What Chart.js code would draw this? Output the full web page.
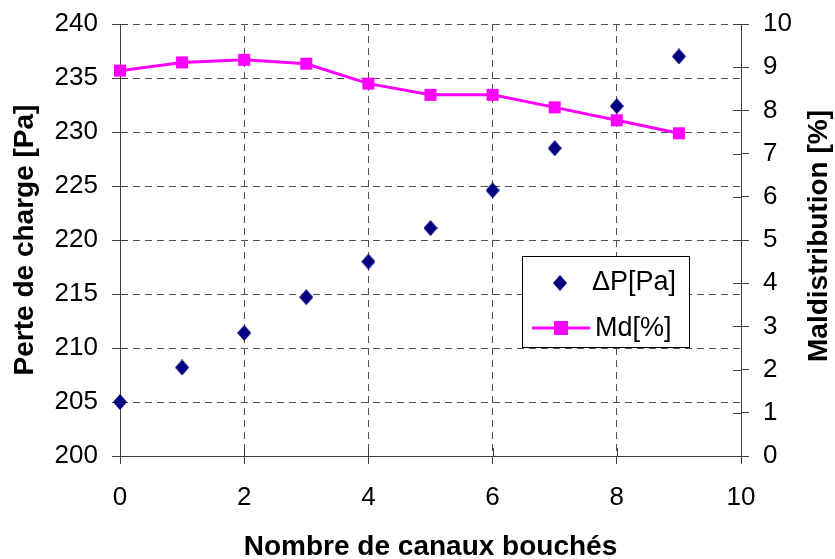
<!DOCTYPE html>
<html>
<head>
<meta charset="utf-8">
<script src="https://cdn.jsdelivr.net/npm/chart.js@4"></script>
<style>
  html, body { margin: 0; padding: 0; background: #fff; }
</style>
</head>
<body>
<canvas id="myChart" width="835" height="559"></canvas>
<script>
var xValues = [0, 1, 2, 3, 4, 5, 6, 7, 8, 9];
var dpValues = [205.0, 208.2, 211.4, 214.7, 218.0, 221.1, 224.6, 228.5, 232.4, 237.0];
var mdValues = [8.92, 9.11, 9.17, 9.08, 8.62, 8.36, 8.36, 8.07, 7.77, 7.47];
var seriesNames = ["\u0394P[Pa]", "Md[%]"];
var xTitle = "Nombre de canaux bouchés";
var yLeftTitle = "Perte de charge [Pa]";
var yRightTitle = "Maldistribution [%]";

var FONT = "'Liberation Sans', Arial, sans-serif";
var axisColor = "#404040";
var gridColor = "#505050";

// diamond marker, a bit taller than wide
var diamond = document.createElement("canvas");
diamond.width = 14;
diamond.height = 16;
(function () {
  var c = diamond.getContext("2d");
  c.fillStyle = "#000080";
  c.beginPath();
  c.moveTo(7, 0);
  c.lineTo(14, 8);
  c.lineTo(7, 16);
  c.lineTo(0, 8);
  c.closePath();
  c.fill();
})();

// tick marks that cross the axis lines
var crossTicks = {
  id: "crossTicks",
  beforeDatasetsDraw: function (chart) {
    var ctx = chart.ctx, a = chart.chartArea, s = chart.scales;
    ctx.save();
    ctx.strokeStyle = axisColor;
    ctx.lineWidth = 1;
    ctx.beginPath();
    s.x.ticks.forEach(function (t) {
      var px = Math.round(s.x.getPixelForValue(t.value)) + 0.5;
      ctx.moveTo(px, a.bottom);
      ctx.lineTo(px, a.bottom - 8);
    });
    s.y.ticks.forEach(function (t) {
      var py = Math.round(s.y.getPixelForValue(t.value)) + 0.5;
      ctx.moveTo(a.left, py);
      ctx.lineTo(a.left + 8, py);
    });
    s.y1.ticks.forEach(function (t) {
      var py = Math.round(s.y1.getPixelForValue(t.value)) + 0.5;
      ctx.moveTo(a.right, py);
      ctx.lineTo(a.right - 8, py);
    });
    ctx.stroke();
    ctx.restore();
  }
};

// right title (bottom to top, like Excel) and the boxed legend
var extras = {
  id: "extras",
  afterDraw: function (chart) {
    var ctx = chart.ctx, a = chart.chartArea;
    ctx.save();
    ctx.fillStyle = "#000";
    ctx.font = "bold 28px " + FONT;
    ctx.textAlign = "center";
    ctx.textBaseline = "middle";
    ctx.translate(a.right + 78, (a.top + a.bottom) / 2 - 4);
    ctx.rotate(-Math.PI / 2);
    ctx.fillText(yRightTitle, 0, 0);
    ctx.restore();

    var bx = 522, by = 256, bw = 167, bh = 91;
    ctx.save();
    ctx.fillStyle = "#fff";
    ctx.fillRect(bx, by, bw, bh);
    ctx.strokeStyle = "#000";
    ctx.lineWidth = 1;
    ctx.strokeRect(bx + 0.5, by + 0.5, bw, bh);
    ctx.drawImage(diamond, 553, 275, 14, 16);
    ctx.strokeStyle = "#FF00FF";
    ctx.lineWidth = 3;
    ctx.beginPath();
    ctx.moveTo(532, 328);
    ctx.lineTo(590, 328);
    ctx.stroke();
    ctx.fillStyle = "#FF00FF";
    ctx.fillRect(554, 321, 14, 14);
    ctx.fillStyle = "#000";
    ctx.font = "27px " + FONT;
    ctx.textAlign = "left";
    ctx.textBaseline = "middle";
    ctx.fillText(seriesNames[0], 592, 283);
    ctx.fillText(seriesNames[1], 595, 329);
    ctx.restore();
  }
};

function fitY(w) {
  return function (s) {
    s.width = w;
    s.paddingTop = 0;
    s.paddingBottom = 0;
  };
}

new Chart("myChart", {
  type: "scatter",
  data: {
    datasets: [{
      label: seriesNames[0],
      data: xValues.map(function (x, i) { return { x: x, y: dpValues[i] }; }),
      yAxisID: "y",
      pointStyle: diamond,
      pointRadius: 8,
      showLine: false,
      clip: false,
      order: 1
    }, {
      label: seriesNames[1],
      data: xValues.map(function (x, i) { return { x: x, y: mdValues[i] }; }),
      yAxisID: "y1",
      showLine: true,
      borderColor: "#FF00FF",
      backgroundColor: "#FF00FF",
      borderWidth: 3,
      pointStyle: "rect",
      pointRadius: 8.5,
      pointBorderWidth: 0,
      clip: false,
      order: 2
    }]
  },
  options: {
    responsive: false,
    animation: false,
    layout: { padding: { top: 24 } },
    plugins: {
      legend: { display: false },
      tooltip: { enabled: false }
    },
    scales: {
      x: {
        type: "linear",
        min: 0,
        max: 10,
        ticks: { stepSize: 2, color: "#000", font: { family: FONT, size: 26 }, padding: 18 },
        grid: { color: gridColor, tickColor: axisColor, tickLength: 8 },
        border: { color: axisColor, width: 1, dash: [7, 5] },
        title: {
          display: true,
          text: xTitle,
          color: "#000",
          font: { family: FONT, size: 28, weight: "bold", lineHeight: 1 },
          padding: { top: 0, bottom: -2 }
        },
        afterFit: function (s) { s.height = 103; }
      },
      y: {
        position: "left",
        min: 200,
        max: 240,
        ticks: { stepSize: 5, color: "#000", font: { family: FONT, size: 26 }, padding: 14 },
        grid: { color: gridColor, tickColor: axisColor, tickLength: 8 },
        border: { color: axisColor, width: 1, dash: [7, 5] },
        title: {
          display: true,
          text: yLeftTitle,
          color: "#000",
          font: { family: FONT, size: 28, weight: "bold", lineHeight: 1 },
          padding: { top: 11, bottom: 0 }
        },
        afterFit: fitY(120)
      },
      y1: {
        position: "right",
        min: 0,
        max: 10,
        ticks: { stepSize: 1, color: "#000", font: { family: FONT, size: 26 }, padding: 14 },
        grid: { drawOnChartArea: false, tickColor: axisColor, tickLength: 8 },
        border: { color: axisColor, width: 1 },
        afterFit: fitY(94)
      }
    }
  },
  plugins: [crossTicks, extras]
});
</script>
</body>
</html>
